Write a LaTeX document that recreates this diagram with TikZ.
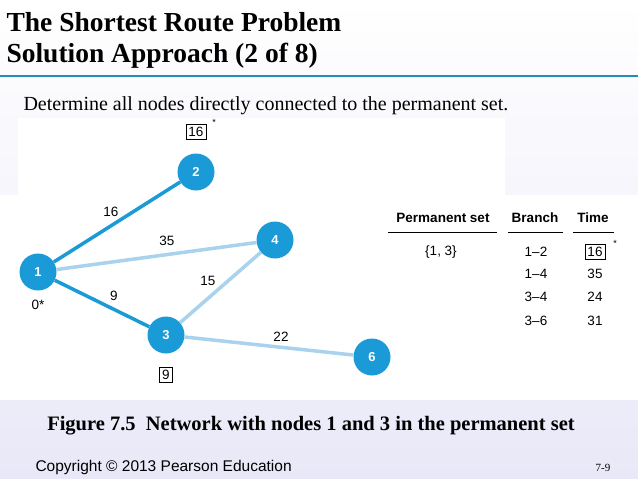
\documentclass[tikz,border=0pt]{standalone}
\usepackage{fontspec}
\setmainfont{Liberation Serif}
\setsansfont{Liberation Sans}
\begin{document}
\begin{tikzpicture}[x=1pt,y=-1pt,
  nd/.style={circle,fill=nodeblue,text=white,font=\sffamily\bfseries\fontsize{13}{14}\selectfont,minimum size=37pt,inner sep=0pt},
  dark/.style={line width=3.5pt,color=nodeblue},
  light/.style={line width=3.5pt,color=lightblue},
  lab/.style={font=\sffamily\fontsize{13.5}{15}\selectfont},
  bx/.style={draw,line width=0.7pt,font=\sffamily\fontsize{13.5}{15}\selectfont,inner sep=2.5pt},
  th/.style={font=\sffamily\bfseries\fontsize{13.5}{15}\selectfont}]
\definecolor{nodeblue}{HTML}{1A9AD6}
\definecolor{lightblue}{HTML}{A8D2EE}
\definecolor{lav}{HTML}{E8E8F8}
\definecolor{teal}{HTML}{1F8FB8}
\useasboundingbox (0,0) rectangle (638,479);
\shade[top color=white,bottom color=lav] (0,0) rectangle (638,479);
\fill[white] (18,118) rectangle (505,195);
\fill[white] (0,195) rectangle (638,400);
\draw[teal,line width=2.5pt] (0,76) -- (638,76);
\node[anchor=west,font=\bfseries\fontsize{27.5}{30}\selectfont] (t1) at (3,22) {The Shortest Route Problem};
\node[anchor=west,font=\bfseries\fontsize{27.5}{30}\selectfont] (t2) at (3,56) {Solution Approach (2 of 8)};
\node[anchor=west,font=\fontsize{20}{24}\selectfont] (d) at (20,106) {Determine all nodes directly connected to the permanent set.};
\node[nd] (n1) at (38,272) {1};
\node[nd] (n2) at (196,172) {2};
\node[nd] (n4) at (275,240) {4};
\node[nd] (n3) at (166,335) {3};
\node[nd] (n6) at (372,357) {6};
\draw[dark] (n1) -- (n2);
\draw[dark] (n1) -- (n3);
\draw[light] (n1) -- (n4);
\draw[light] (n3) -- (n4);
\draw[light] (n3) -- (n6);
\node[lab] (l12) at (111,212) {16};
\node[lab] (l14) at (167,241) {35};
\node[lab] (l13) at (114,296) {9};
\node[lab] (l34) at (208,281) {15};
\node[lab] (l36) at (281,337) {22};
\node[lab] (z) at (38,305) {0*};
\node[bx] (b2) at (196,132) {16};
\node[font=\sffamily\small] (s2) at (214,122) {*};
\node[bx] (b3) at (166,375) {9};
\node[th] (h1) at (443,218) {Permanent set};
\node[th] (h2) at (535,218) {Branch};
\node[th] (h3) at (593,218) {Time};
\draw[line width=0.7pt] (388,232) -- (497,232) (508,232) -- (563,232) (573,232) -- (614,232);
\node[lab] (r0) at (441,252) {\{1, 3\}};
\node[lab] (r1) at (536,252) {1–2};
\node[lab] (r2) at (536,274) {1–4};
\node[lab] (r3) at (536,297) {3–4};
\node[lab] (r4) at (536,321) {3–6};
\node[bx] (v1) at (595,252) {16};
\node[font=\sffamily\small] (s1) at (615,243) {*};
\node[lab] (v2) at (595,274) {35};
\node[lab] (v3) at (595,297) {24};
\node[lab] (v4) at (595,321) {31};
\node[font=\bfseries\fontsize{20.5}{22}\selectfont] (cap) at (311,426) {Figure 7.5\ \ Network with nodes 1 and 3 in the permanent set};
\node[anchor=west,font=\sffamily\fontsize{15.5}{18}\selectfont] (cp) at (32,467) {Copyright © 2013 Pearson Education};
\node[font=\fontsize{11}{12}\selectfont] (pg) at (603,468) {7-9};
\end{tikzpicture}
\end{document}
